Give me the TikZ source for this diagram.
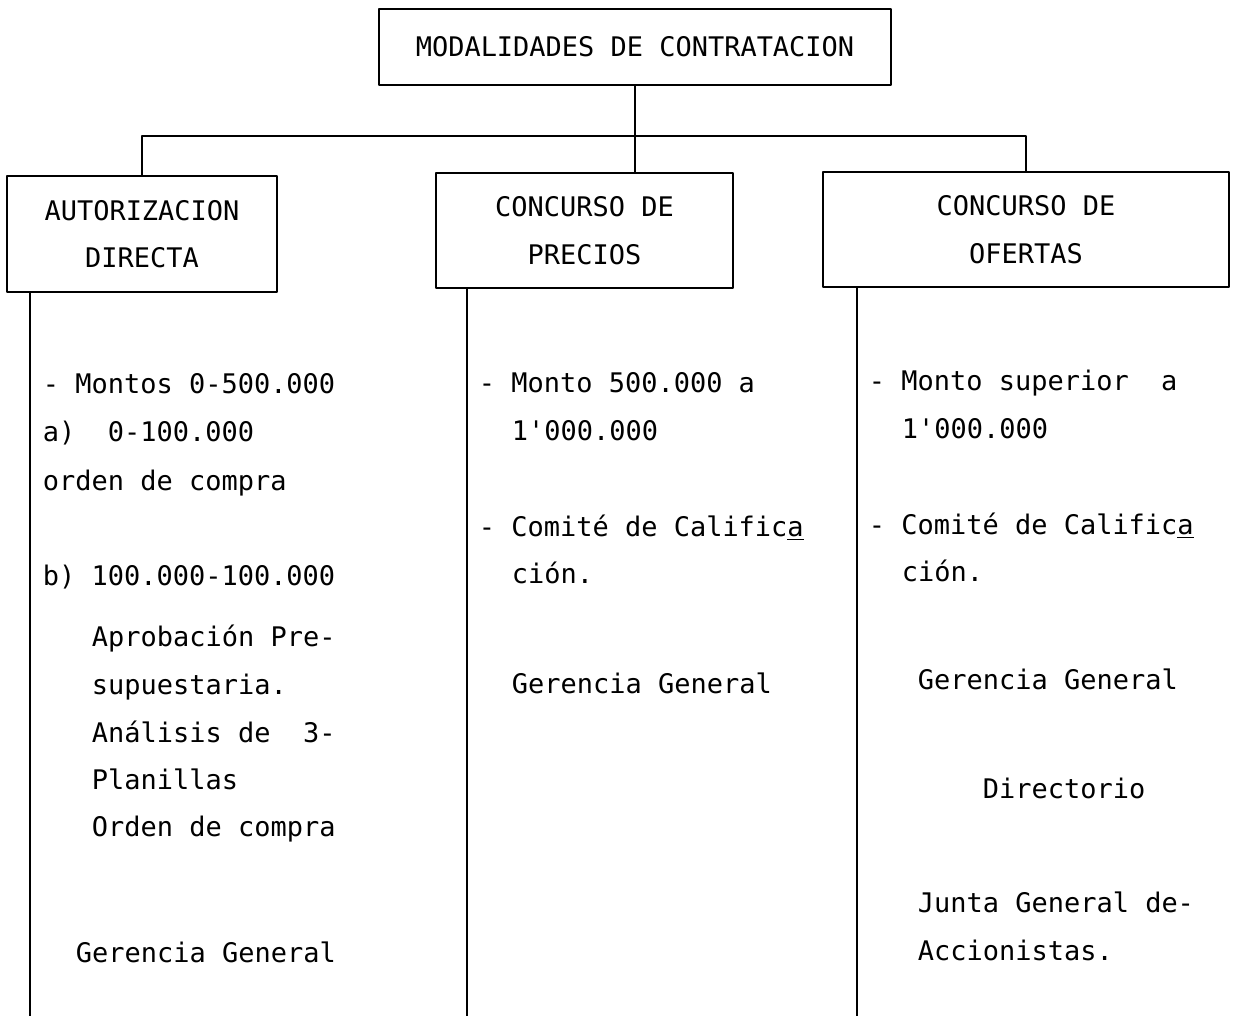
\documentclass[tikz,border=0pt]{standalone}
\usepackage{fontspec}
\setmonofont{DejaVu Sans Mono}
\tikzset{
  caja/.style={draw, inner sep=0pt, align=center},
  renglon/.style={anchor=base west, inner sep=0pt}
}
\begin{document}
\begin{tikzpicture}[x=0.02cm, y=-0.02cm, line width=1.1pt, line join=round,
    font=\ttfamily\fontsize{15.35}{27}\selectfont]
  \useasboundingbox (0,0) rectangle (1234,1016);
  % cajas
  \node[caja, minimum width=10.24cm, minimum height=1.52cm] (top) at (635,47) {MODALIDADES DE CONTRATACION};
  \node[caja, minimum width=5.4cm, minimum height=2.32cm] (autdir) at (142,234) {AUTORIZACION\\DIRECTA};
  \node[caja, minimum width=5.94cm, minimum height=2.3cm] (preci) at (584.5,230.5) {CONCURSO DE\\PRECIOS};
  \node[caja, minimum width=8.12cm, minimum height=2.3cm] (ofert) at (1026,229.5) {CONCURSO DE\\OFERTAS};
  \coordinate (bar) at (635,136);
  \coordinate (pie1) at (30,1016);
  \coordinate (pie2) at (467,1016);
  \coordinate (pie3) at (857,1016);
  % conectores
  \draw (top.south) -- (top.south |- preci.north);
  \draw (autdir.north) |- (bar) -| (ofert.north);
  \draw (autdir.south -| pie1) -- (pie1);
  \draw (preci.south -| pie2) -- (pie2);
  \draw (ofert.south -| pie3) -- (pie3);
  % textos
  \foreach \px/\py/\txt [count=\i] in {42/394/{- Montos 0-500.000}, 42/442/{a)\ \ 0-100.000},
      42/491/{orden de compra}, 42/585/{b) 100.000-100.000}, 91/646/{Aprobación Pre-},
      91/694/{supuestaria.}, 91/742/{Análisis de\ \ 3-}, 91/789/{Planillas},
      91/836/{Orden de compra}, 75/962/{Gerencia General}}
    \node[renglon] (a\i) at (\px,\py) {\txt};
  \foreach \px/\py/\txt [count=\i] in {478/393/{- Monto 500.000 a}, 511/441/{1'000.000},
      478/537/{- Comité de Calific\underline{a}}, 511/583/{ción.}, 511/693/{Gerencia General}}
    \node[renglon] (b\i) at (\px,\py) {\txt};
  \foreach \px/\py/\txt [count=\i] in {868/391/{- Monto superior\ \ a}, 901/439/{1'000.000},
      868/535/{- Comité de Calific\underline{a}}, 901/582/{ción.}, 917/689/{Gerencia General},
      982/798/{Directorio}, 917/912/{Junta General de-}, 917/960/{Accionistas.}}
    \node[renglon] (c\i) at (\px,\py) {\txt};
\end{tikzpicture}
\end{document}
